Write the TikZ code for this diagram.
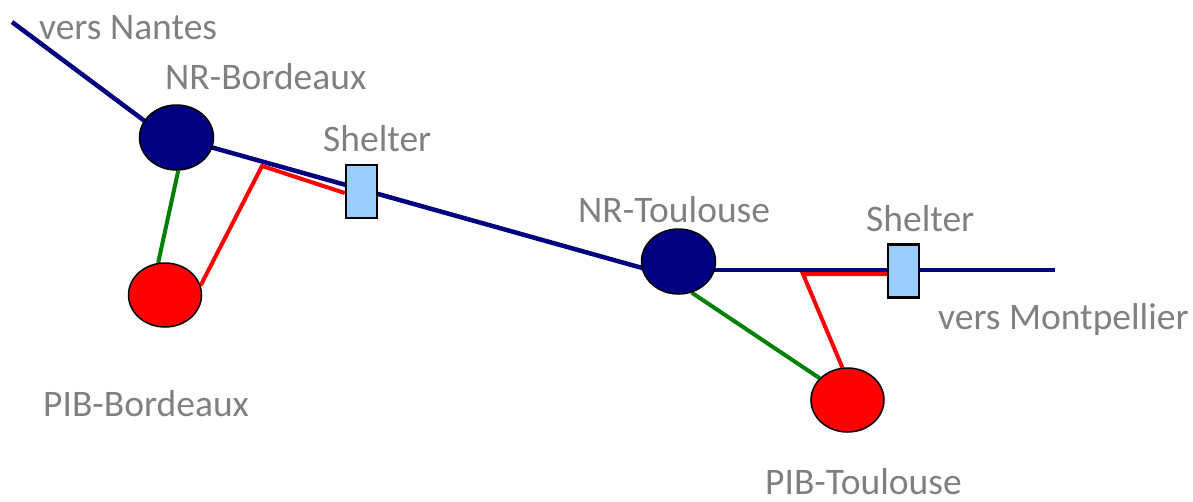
\documentclass[tikz,border=0pt]{standalone}
\usepackage{fontspec}
\setmainfont{Carlito}
\usetikzlibrary{shapes.geometric}
\definecolor{navy}{HTML}{000080}
\definecolor{lbl}{HTML}{808080}
\definecolor{shfill}{HTML}{99CCFF}
\definecolor{gr}{HTML}{008000}
\pgfdeclarelayer{bg}
\pgfsetlayers{bg,main}
\tikzset{
  nrnode/.style={ellipse, draw=black, line width=1.5pt, fill=navy, inner sep=0pt, minimum width=74pt, minimum height=65pt},
  pibnode/.style={ellipse, draw=black, line width=1.5pt, fill=red, inner sep=0pt, minimum width=73pt, minimum height=64pt},
  shelterbox/.style={rectangle, draw=black, line width=2.5pt, fill=shfill, inner sep=0pt, minimum width=31pt, minimum height=53pt},
  lab/.style={anchor=base west, inner sep=0pt, text=lbl, font=\fontsize{37.5}{42}\selectfont},
  bline/.style={navy, line width=4.5pt},
  rline/.style={red, line width=4pt},
  gline/.style={gr, line width=4pt},
}
\begin{document}
\begin{tikzpicture}[x=1pt,y=-1pt]
\useasboundingbox (0,0) rectangle (1193,501);
% nodes
\node[nrnode] (nrb) at (176.5,137.5) {};
\node[pibnode] (pibb) at (165,295) {};
\node[nrnode] (nrt) at (678.5,261.5) {};
\node[pibnode] (pibt) at (847.5,400) {};
\node[shelterbox] (sh1) at (361.5,191.5) {};
\node[shelterbox] (sh2) at (903.5,271) {};
\coordinate (nantes) at (12,22);
\coordinate (nantesin) at (150,125);
\coordinate (nrtin) at (678,278);
\coordinate (nrtright) at (678,270);
\coordinate (montp) at (1055,270);
\coordinate (rb) at (262,166);
\coordinate (rt) at (803,274);
% lines
\begin{pgfonlayer}{bg}
\draw[bline] (nantes) -- (nantesin);
\draw[bline] (nrb.center) -- (nrtin);
\draw[bline] (nrtright) -- (montp);
\draw[gline] (nrb.-87) -- (pibb.102);
\draw[gline] (nrt.-67) -- (pibt.142);
\draw[rline] ([yshift=-1.5pt]sh1.west) -- (rb) -- (pibb.15);
\draw[rline] ([yshift=-3pt]sh2.west) -- (rt) -- (pibt.99);
\end{pgfonlayer}
% labels
\node[lab] (tnantes) at (39,39) {vers Nantes};
\node[lab] (tnrb) at (165,89) {NR-Bordeaux};
\node[lab] (tsh1) at (323,151) {Shelter};
\node[lab] (tnrt) at (578,222) {NR-Toulouse};
\node[lab] (tsh2) at (866,231) {Shelter};
\node[lab] (tmontp) at (938,329) {vers Montpellier};
\node[lab] (tpibb) at (43,416) {PIB-Bordeaux};
\node[lab] (tpibt) at (765,494) {PIB-Toulouse};
\end{tikzpicture}
\end{document}
